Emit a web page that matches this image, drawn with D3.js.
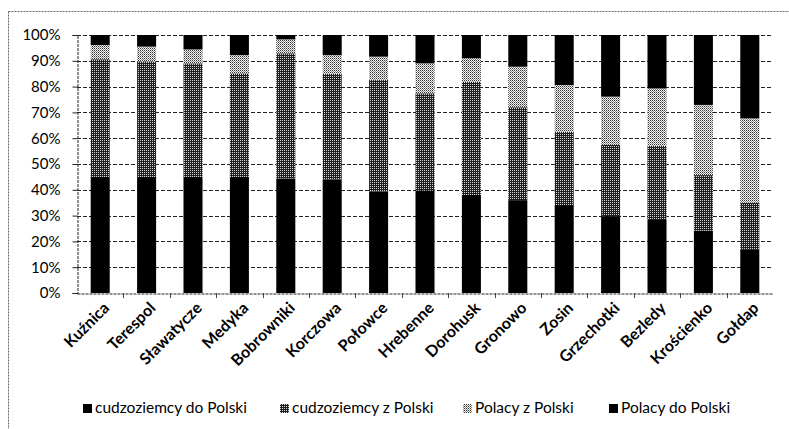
<!DOCTYPE html>
<html>
<head>
<meta charset="utf-8">
<script src="https://cdn.jsdelivr.net/npm/d3@7"></script>
<style>
  html, body { margin: 0; padding: 0; background: #fff; }
  svg { display: block; }
  text { font-family: Lato, "Open Sans", sans-serif; fill: #000; }
</style>
</head>
<body>
<script>
// Border crossings
const categories = ["Kuźnica", "Terespol", "Sławatycze", "Medyka", "Bobrowniki", "Korczowa",
  "Połowce", "Hrebenne", "Dorohusk", "Gronowo", "Zosin", "Grzechotki", "Bezledy", "Krościenko", "Gołdap"];

// Traffic shares (%), one array per series
const cudzoziemcyDoPolski = [45, 45, 45, 45, 44.4, 44, 39.3, 39.7, 38, 36, 34.1, 29.8, 28.3, 24.2, 16.7];
const cudzoziemcyZPolski  = [45.6, 44.7, 44, 40.1, 48.5, 40.9, 43.3, 37.7, 43.9, 36, 28.4, 27.6, 28.7, 21.5, 18.3];
const polacyZPolski       = [5.5, 5.8, 5.4, 7.1, 5.4, 7.3, 9, 11.6, 9.1, 15.7, 18.1, 18.7, 22.3, 27.2, 32.7];
const polacyDoPolski      = [3.9, 4.5, 5.6, 7.8, 1.7, 7.8, 8.4, 11, 9, 12.3, 19.4, 23.9, 20.7, 27.1, 32.3];

const seriesNames = ["cudzoziemcy do Polski", "cudzoziemcy z Polski", "Polacy z Polski", "Polacy do Polski"];
const yTicks = [0, 0.1, 0.2, 0.3, 0.4, 0.5, 0.6, 0.7, 0.8, 0.9, 1];

const W = 789, H = 429;
const margin = { left: 77, right: 16, top: 35, bottom: 136 };

const svg = d3.select("body").append("svg").attr("width", W).attr("height", H);

// Dithered fills
const defs = svg.append("defs");
const dark = defs.append("pattern").attr("id", "darkFill")
  .attr("patternUnits", "userSpaceOnUse").attr("width", 2).attr("height", 2);
dark.append("rect").attr("width", 2).attr("height", 2).attr("fill", "#1e1e1e");
dark.append("rect").attr("x", 0).attr("y", 0).attr("width", 1).attr("height", 1).attr("fill", "#d8d8d8");

const light = defs.append("pattern").attr("id", "lightFill")
  .attr("patternUnits", "userSpaceOnUse").attr("width", 2).attr("height", 2);
light.append("rect").attr("width", 2).attr("height", 2).attr("fill", "#f4f4f4");
light.append("rect").attr("x", 0).attr("y", 0).attr("width", 1).attr("height", 1).attr("fill", "#333");
light.append("rect").attr("x", 1).attr("y", 1).attr("width", 1).attr("height", 1).attr("fill", "#8a8a8a");

const fills = ["#000", "url(#darkFill)", "url(#lightFill)", "#000"];

// Outer chart frame
svg.append("rect")
  .attr("x", 8.5).attr("y", 11.5).attr("width", W + 20).attr("height", H + 20)
  .attr("fill", "none").attr("stroke", "#666").attr("stroke-dasharray", "2,1");

const x = d3.scaleBand().domain(categories)
  .range([margin.left, W - margin.right]).paddingInner(0.59).paddingOuter(0.295);
const y = d3.scaleLinear().domain([0, 1]).range([H - margin.bottom, margin.top]);

// Gridlines
svg.append("g").selectAll("line").data(yTicks.slice(1)).join("line")
  .attr("x1", margin.left).attr("x2", W - margin.right)
  .attr("y1", d => Math.round(y(d)) + 0.5).attr("y2", d => Math.round(y(d)) + 0.5)
  .attr("stroke", "#222").attr("stroke-dasharray", "4,2");

// Stacked bars
const rows = categories.map((c, i) => ({
  cat: c,
  [seriesNames[0]]: cudzoziemcyDoPolski[i],
  [seriesNames[1]]: cudzoziemcyZPolski[i],
  [seriesNames[2]]: polacyZPolski[i],
  [seriesNames[3]]: polacyDoPolski[i]
}));
const stacked = d3.stack().keys(seriesNames).offset(d3.stackOffsetExpand)(rows);

svg.append("g").selectAll("g").data(stacked).join("g")
  .attr("fill", (d, i) => fills[i])
  .selectAll("rect").data(d => d).join("rect")
  .attr("x", d => x(d.data.cat))
  .attr("width", x.bandwidth())
  .attr("y", d => y(d[1]))
  .attr("height", d => y(d[0]) - y(d[1]));

// Y axis
const yAxis = svg.append("g")
  .attr("transform", `translate(${margin.left + 0.5},0)`)
  .call(d3.axisLeft(y).tickValues(yTicks).tickFormat(d3.format(".0%")).tickSize(5).tickPadding(12));
yAxis.select(".domain").attr("stroke", "#222").attr("stroke-dasharray", "3,1");
yAxis.selectAll(".tick line").attr("stroke", "#222");
yAxis.selectAll("text").style("font-size", "15px").attr("fill", "#000");

// X axis
const xAxis = svg.append("g")
  .attr("transform", `translate(0,${Math.round(y(0)) + 0.5})`)
  .call(d3.axisBottom(x).tickSize(0).tickFormat(""));
xAxis.select(".domain").attr("stroke", "#222").attr("stroke-dasharray", "3,1");
// Tick marks between categories
svg.append("g").selectAll("line").data(categories.slice(1)).join("line")
  .attr("x1", d => Math.round(x(d) - x.step() * x.paddingInner() / 2) + 0.5)
  .attr("x2", d => Math.round(x(d) - x.step() * x.paddingInner() / 2) + 0.5)
  .attr("y1", Math.round(y(0))).attr("y2", Math.round(y(0)) + 5)
  .attr("stroke", "#444");

// Rotated category labels
svg.append("g").selectAll("text").data(categories).join("text")
  .attr("transform", d => `translate(${x(d) + x.bandwidth() / 2 + 10},${y(0) + 16}) rotate(-45)`)
  .attr("text-anchor", "end")
  .style("font-size", "16px")
  .style("font-weight", "bold")
  .text(d => d);

// Legend
const legendX = [83, 280, 463, 609];
const legend = svg.append("g").attr("transform", "translate(0,408)");
seriesNames.forEach((name, i) => {
  legend.append("rect").attr("x", legendX[i]).attr("y", -4).attr("width", 9).attr("height", 9)
    .attr("fill", fills[i]);
  legend.append("text").attr("x", legendX[i] + 12).attr("y", 5)
    .style("font-size", "15.5px").text(name);
});
</script>
</body>
</html>
